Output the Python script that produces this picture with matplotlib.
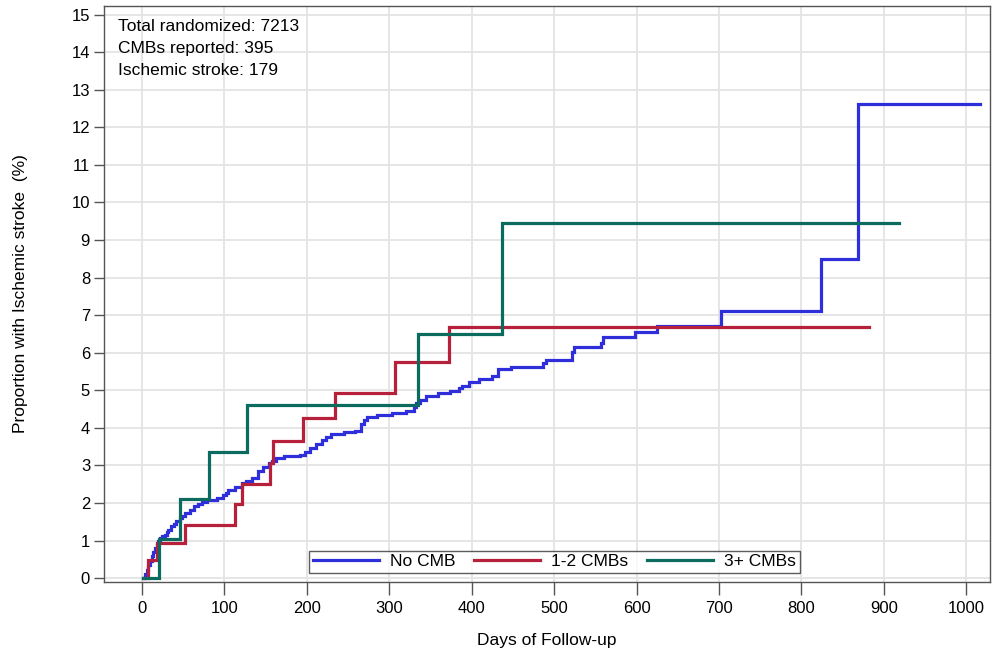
import matplotlib
matplotlib.use("Agg")
import matplotlib.pyplot as plt

plt.rcParams['font.family'] = ['Liberation Sans', 'DejaVu Sans']

# ---- data (step functions: day of event, cumulative % after the step) ----
blue_days = [1, 4, 6, 8, 10, 12, 14, 16, 18, 20, 22, 25, 28, 30, 32, 36, 39, 42, 46, 49,
             52, 58, 63, 68, 73, 79, 91, 99, 102, 105, 113, 121, 127, 134, 141, 147, 154,
             158, 163, 172, 192, 198, 204, 211, 218, 224, 230, 245, 258, 266, 269, 273,
             285, 304, 321, 330, 333, 337, 345, 359, 374, 385, 388, 397, 409, 425, 432,
             448, 486, 490, 522, 524, 557, 559, 598, 625, 703, 824, 869, 1017]
blue_vals = [0.0, 0.12, 0.23, 0.34, 0.45, 0.58, 0.71, 0.80, 0.89, 0.98, 1.07, 1.12, 1.16,
             1.22, 1.29, 1.38, 1.45, 1.51, 1.60, 1.66, 1.73, 1.82, 1.91, 1.97, 2.02, 2.07,
             2.13, 2.22, 2.28, 2.35, 2.44, 2.53, 2.60, 2.68, 2.85, 2.95, 3.06, 3.12, 3.20,
             3.24, 3.28, 3.37, 3.46, 3.57, 3.68, 3.76, 3.84, 3.88, 3.93, 4.10, 4.22, 4.30,
             4.35, 4.39, 4.45, 4.55, 4.65, 4.75, 4.84, 4.93, 4.97, 5.06, 5.12, 5.23, 5.31,
             5.39, 5.56, 5.63, 5.72, 5.80, 6.02, 6.14, 6.27, 6.41, 6.55, 6.72, 7.12, 8.49,
             12.63, 12.63]

red_days = [1, 7, 18, 53, 113, 122, 155, 159, 196, 234, 307, 372, 882]
red_vals = [0.0, 0.49, 0.95, 1.42, 1.98, 2.51, 3.06, 3.64, 4.26, 4.94, 5.75, 6.69, 6.69]

green_days = [1, 21, 46, 81, 128, 335, 437, 918]
green_vals = [0.0, 1.04, 2.11, 3.35, 4.61, 6.50, 9.45, 9.45]

series_labels = ["No CMB", "1-2 CMBs", "3+ CMBs"]
info_lines = ["Total randomized: 7213", "CMBs reported: 395", "Ischemic stroke: 179"]
x_ticks = list(range(0, 1001, 100))
y_ticks = list(range(0, 16))

colors = ["#2E2EDB", "#B7203A", "#0B6B5E"]

fig = plt.figure(figsize=(10.01, 6.56), dpi=100)
ax = fig.add_axes([104 / 1001, 1 - 582 / 656, 886 / 1001, 576.5 / 656])

for d, v, c, lab in zip([blue_days, red_days, green_days],
                        [blue_vals, red_vals, green_vals], colors, series_labels):
    ax.plot(d, v, drawstyle='steps-post', color=c, lw=2.3, label=lab,
            solid_joinstyle='miter', zorder=3)

ax.set_xlim(-45.8, 1028.7)
ax.set_ylim(-0.1, 15.24)
ax.set_xticks(x_ticks)
ax.set_yticks(y_ticks)
ax.grid(True, color='#e4e4e4', lw=1.3, zorder=0)
ax.set_axisbelow(True)

for s in ax.spines.values():
    s.set_color('#555555')
    s.set_linewidth(1.0)

ax.tick_params(axis='x', direction='out', length=9, width=1, color='#555555',
               labelsize=12, pad=5)
ax.tick_params(axis='y', direction='out', length=7, width=1, color='#555555',
               labelsize=12, pad=3)

ax.set_xlabel("Days of Follow-up", fontsize=12.5, labelpad=12)
ax.set_ylabel("Proportion with Ischemic stroke  (%)", fontsize=12.5, labelpad=31)

ax.text(0.0158, 0.976, "\n".join(info_lines), transform=ax.transAxes,
        fontsize=12.5, va='top', ha='left', linespacing=1.55)

leg = ax.legend(loc='lower center', ncol=3, bbox_to_anchor=(0.5085, 0.007),
                frameon=True, fancybox=False, edgecolor='#333333', fontsize=12.5,
                handlelength=3.8, handletextpad=0.63, columnspacing=1.1,
                borderpad=0.2, borderaxespad=0.3)
leg.get_frame().set_linewidth(1.0)

fig.savefig("out.png", dpi=100)
